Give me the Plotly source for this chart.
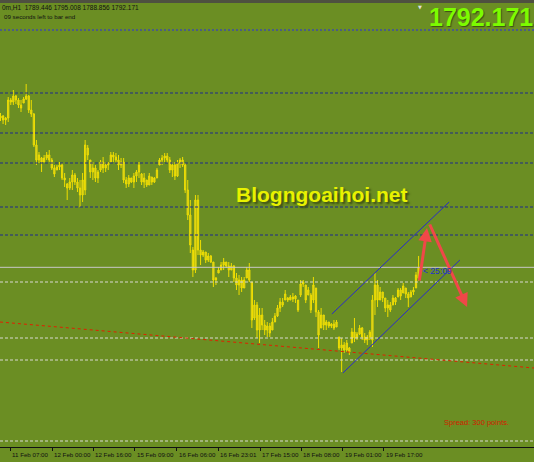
import plotly.graph_objects as go

# ---- OHLC data (XAUUSD H1) ----
bar_open = [
    1829.5, 1830.0, 1829.0, 1829.5, 1834.0, 1833.5, 1835.0, 1834.0, 1832.75, 1833.25,
    1834.25, 1835.0, 1831.5, 1830.5, 1822.75, 1819.0, 1819.5, 1818.5, 1819.5, 1820.25,
    1819.0, 1817.0, 1816.5, 1817.25, 1817.75, 1814.5, 1813.0, 1812.0, 1813.5, 1815.25,
    1813.5, 1812.0, 1810.25, 1811.5, 1822.0, 1819.0, 1816.0, 1817.0, 1814.5, 1816.5,
    1818.5, 1817.0, 1817.75, 1818.5, 1820.25, 1819.75, 1819.0, 1817.75, 1818.5, 1814.0,
    1813.0, 1814.5, 1813.5, 1815.0, 1816.0, 1815.5, 1813.5, 1814.0, 1812.75, 1814.75,
    1813.5, 1814.5, 1817.75, 1819.0, 1819.5, 1820.0, 1819.0, 1816.5, 1817.75, 1815.0,
    1818.25, 1819.0, 1817.75, 1811.5, 1805.25, 1796.5, 1791.5, 1809.0, 1796.5, 1795.25,
    1796.0, 1794.0, 1795.0, 1793.5, 1789.0, 1790.75, 1791.5, 1792.75, 1793.5, 1792.5,
    1791.5, 1792.5, 1789.5, 1787.75, 1789.0, 1787.0, 1789.5, 1791.5, 1788.5, 1779.5,
    1782.75, 1776.5, 1780.25, 1777.75, 1776.5, 1777.5, 1776.5, 1778.5, 1780.0, 1782.0,
    1783.5, 1784.0, 1784.5, 1784.0, 1784.75, 1784.25, 1784.0, 1785.25, 1788.0, 1787.75,
    1785.25, 1785.25, 1784.0, 1787.0, 1781.0, 1777.0, 1780.25, 1777.75, 1778.5, 1777.5,
    1778.0, 1777.25, 1774.75, 1772.0, 1772.75, 1771.5, 1772.0, 1773.25, 1776.0, 1774.5,
    1775.5, 1777.0, 1774.75, 1774.0, 1774.75, 1774.0, 1784.0, 1787.75, 1784.0, 1786.0,
    1784.5, 1782.0, 1782.75, 1782.75, 1784.5, 1784.75, 1786.5, 1785.75, 1787.0, 1785.5,
    1784.75, 1786.0, 1787.0, 1789.446,
]
bar_high = [
    1830.75, 1830.25, 1829.75, 1834.75, 1834.5, 1836.5, 1835.25, 1834.5, 1834.0, 1834.75,
    1838.0, 1835.25, 1834.0, 1830.75, 1824.0, 1821.0, 1819.75, 1820.25, 1821.0, 1821.5,
    1819.5, 1817.75, 1817.75, 1818.5, 1818.25, 1815.75, 1813.25, 1814.5, 1816.5, 1815.75,
    1814.5, 1814.0, 1815.75, 1824.0, 1822.75, 1819.0, 1818.5, 1817.75, 1816.5, 1819.0,
    1819.75, 1818.5, 1818.5, 1821.0, 1821.0, 1820.75, 1820.25, 1819.5, 1819.5, 1814.75,
    1815.25, 1814.5, 1815.75, 1816.5, 1818.5, 1815.75, 1815.75, 1814.0, 1815.75, 1814.75,
    1814.75, 1817.0, 1819.5, 1820.25, 1820.75, 1820.75, 1819.75, 1818.5, 1818.5, 1819.0,
    1819.5, 1819.75, 1818.25, 1814.0, 1809.0, 1797.25, 1810.25, 1810.25, 1799.0, 1796.5,
    1796.0, 1795.75, 1795.25, 1793.5, 1789.75, 1792.25, 1793.5, 1794.5, 1793.5, 1793.5,
    1793.25, 1792.75, 1790.75, 1790.25, 1789.75, 1789.75, 1792.25, 1793.25, 1788.5, 1784.0,
    1783.5, 1782.0, 1782.0, 1779.0, 1778.5, 1778.25, 1779.5, 1780.75, 1782.75, 1784.5,
    1784.5, 1786.5, 1784.75, 1785.25, 1785.75, 1785.25, 1784.0, 1789.0, 1789.0, 1787.75,
    1787.25, 1785.75, 1789.75, 1787.0, 1781.5, 1782.0, 1780.25, 1779.0, 1778.5, 1778.25,
    1779.0, 1779.0, 1774.75, 1774.5, 1773.5, 1774.0, 1772.25, 1777.0, 1779.5, 1776.0,
    1777.75, 1777.25, 1775.75, 1775.25, 1776.5, 1785.25, 1790.75, 1789.0, 1787.25, 1786.0,
    1784.5, 1784.0, 1783.5, 1785.25, 1784.75, 1787.0, 1787.0, 1788.25, 1787.0, 1786.0,
    1786.5, 1787.25, 1791.0, 1795.008,
]
bar_low = [
    1828.75, 1828.0, 1827.75, 1828.5, 1832.75, 1832.75, 1833.0, 1832.0, 1831.0, 1833.25,
    1834.0, 1830.75, 1829.75, 1822.25, 1817.75, 1818.25, 1816.0, 1818.5, 1819.0, 1818.5,
    1816.5, 1814.75, 1816.5, 1816.5, 1814.0, 1812.25, 1809.0, 1811.5, 1811.5, 1812.75,
    1811.0, 1807.25, 1808.5, 1810.25, 1819.0, 1814.5, 1814.0, 1813.5, 1813.25, 1816.0,
    1815.75, 1816.0, 1816.5, 1818.5, 1818.5, 1818.25, 1816.5, 1817.0, 1813.25, 1812.0,
    1812.25, 1813.25, 1812.0, 1813.5, 1814.5, 1812.75, 1812.0, 1812.25, 1812.75, 1812.75,
    1813.25, 1814.5, 1817.75, 1817.75, 1818.5, 1818.25, 1815.75, 1814.75, 1814.0, 1814.75,
    1817.0, 1817.25, 1810.75, 1804.0, 1795.75, 1789.75, 1790.75, 1795.25, 1792.75, 1794.75,
    1793.25, 1793.5, 1793.25, 1787.25, 1787.75, 1790.75, 1791.5, 1791.5, 1792.0, 1789.75,
    1791.5, 1788.5, 1786.5, 1785.25, 1786.0, 1787.0, 1789.5, 1788.5, 1777.0, 1779.0,
    1774.5, 1773.25, 1776.5, 1775.25, 1774.75, 1774.75, 1776.5, 1778.5, 1779.75, 1781.0,
    1782.25, 1784.0, 1783.5, 1784.0, 1783.5, 1783.25, 1781.0, 1784.75, 1787.25, 1783.25,
    1785.25, 1780.75, 1783.25, 1779.75, 1772.0, 1777.0, 1776.5, 1776.5, 1777.0, 1777.0,
    1776.5, 1777.25, 1771.5, 1766.0, 1770.75, 1771.0, 1770.25, 1773.25, 1773.5, 1774.0,
    1775.25, 1774.0, 1773.25, 1772.75, 1774.0, 1772.25, 1780.25, 1782.25, 1784.0, 1783.5,
    1781.0, 1779.75, 1781.0, 1782.75, 1782.75, 1784.75, 1784.0, 1785.75, 1784.5, 1782.25,
    1784.75, 1785.25, 1787.0, 1788.856,
]
bar_close = [
    1830.0, 1829.0, 1829.5, 1834.0, 1833.5, 1835.0, 1834.0, 1832.75, 1832.0, 1834.25,
    1835.0, 1831.5, 1830.5, 1822.75, 1819.0, 1820.25, 1818.5, 1819.5, 1820.25, 1819.0,
    1817.0, 1815.5, 1817.25, 1817.75, 1814.5, 1814.0, 1812.0, 1813.5, 1815.25, 1813.5,
    1812.0, 1810.25, 1814.0, 1822.75, 1820.25, 1816.0, 1817.0, 1814.5, 1816.0, 1818.5,
    1817.0, 1817.75, 1818.25, 1820.25, 1819.75, 1819.0, 1817.75, 1818.5, 1814.0, 1813.0,
    1814.5, 1813.5, 1815.0, 1816.0, 1817.75, 1813.5, 1814.5, 1812.75, 1815.0, 1813.5,
    1814.5, 1816.5, 1819.0, 1819.5, 1820.0, 1819.0, 1816.5, 1817.75, 1815.0, 1818.25,
    1819.0, 1817.75, 1811.5, 1805.25, 1797.75, 1791.5, 1809.0, 1796.5, 1795.25, 1796.0,
    1794.0, 1795.0, 1793.5, 1789.0, 1789.5, 1791.5, 1792.75, 1793.5, 1792.5, 1791.5,
    1792.5, 1789.5, 1787.75, 1789.0, 1787.0, 1789.0, 1791.5, 1789.0, 1779.0, 1782.75,
    1776.5, 1780.25, 1777.75, 1776.5, 1777.5, 1775.75, 1778.5, 1780.0, 1782.0, 1783.5,
    1782.75, 1785.5, 1784.0, 1784.75, 1784.25, 1785.0, 1781.5, 1788.0, 1788.5, 1784.0,
    1786.5, 1781.5, 1787.75, 1781.0, 1775.25, 1780.25, 1777.75, 1778.5, 1777.5, 1778.0,
    1777.0, 1778.5, 1772.0, 1772.75, 1771.5, 1773.25, 1771.0, 1776.0, 1774.5, 1775.5,
    1777.0, 1774.75, 1774.0, 1774.75, 1776.0, 1784.0, 1787.75, 1784.0, 1786.0, 1784.5,
    1782.0, 1782.75, 1781.5, 1784.5, 1783.5, 1786.5, 1785.0, 1787.5, 1785.5, 1784.5,
    1786.0, 1786.5, 1790.25, 1792.171,
]
bar_index = list(range(len(bar_close)))

# time-axis labels (bar positions where MT4 prints them)
tick_pos = [3.7, 20.1, 36.1, 52.4, 68.8, 84.8, 101.2, 117.2, 133.5, 149.5]
tick_labels = ["11 Feb 07:00", "12 Feb 00:00", "12 Feb 16:00", "15 Feb 09:00", "16 Feb 06:00",
               "16 Feb 23:01", "17 Feb 15:00", "18 Feb 08:00", "19 Feb 01:00", "19 Feb 17:00"]

# horizontal levels
blue_dotted_levels = [1851.5]
navy_dashed_levels = [1835.75, 1825.75, 1818.25, 1807.25, 1800.25]
bid_level = 1792.171
white_dashed_levels = [1788.5, 1774.5, 1769.0, 1748.75]

# trend lines: (x0, y0, x1, y1) in bar index / price
red_trend = (-0.2, 1778.5, 208.0, 1767.0)
channel_upper = (129.2, 1780.5, 174.9, 1808.5)
channel_lower = (133.5, 1765.75, 179.1, 1794.0)
# arrows: (from_x, from_y, to_x, to_y)
arrow_up = (163.2, 1788.5, 166.3, 1802.0)
arrow_down = (167.1, 1803.25, 181.9, 1782.25)

BG = "#6B8E23"

fig = go.Figure()
fig.add_trace(go.Candlestick(
    x=bar_index, open=bar_open, high=bar_high, low=bar_low, close=bar_close,
    increasing=dict(line=dict(color="#EEDD00", width=1), fillcolor="#C8C43A"),
    decreasing=dict(line=dict(color="#EEDD00", width=1), fillcolor="#C8C43A"),
    whiskerwidth=0, showlegend=False, hoverinfo="skip",
))

shapes = []
for lv in blue_dotted_levels:
    shapes.append(dict(type="line", xref="paper", x0=0, x1=1, yref="y", y0=lv, y1=lv,
                       line=dict(color="#2B2BE8", width=1, dash="2px,2px")))
for lv in navy_dashed_levels:
    shapes.append(dict(type="line", xref="paper", x0=0, x1=1, yref="y", y0=lv, y1=lv,
                       line=dict(color="#1E2A8C", width=1, dash="3px,2px")))
shapes.append(dict(type="line", xref="paper", x0=0, x1=1, yref="y", y0=bid_level, y1=bid_level,
                   line=dict(color="#C8C8C8", width=1)))
for lv in white_dashed_levels:
    shapes.append(dict(type="line", xref="paper", x0=0, x1=1, yref="y", y0=lv, y1=lv,
                       line=dict(color="#D8D8D0", width=1, dash="3px,2px")))
shapes.append(dict(type="line", xref="x", yref="y", x0=red_trend[0], y0=red_trend[1],
                   x1=red_trend[2], y1=red_trend[3],
                   line=dict(color="#E02000", width=1, dash="3px,3px")))
for ch in (channel_upper, channel_lower):
    shapes.append(dict(type="line", xref="x", yref="y", x0=ch[0], y0=ch[1], x1=ch[2], y1=ch[3],
                       line=dict(color="#2A2ACC", width=1)))
# top dark strip
shapes.append(dict(type="rect", xref="paper", yref="paper", x0=0, x1=1, y0=1, y1=1.01,
                   fillcolor="#4E5040", line=dict(width=0)))

annotations = []
for a in (arrow_up, arrow_down):
    annotations.append(dict(x=a[2], y=a[3], ax=a[0], ay=a[1], xref="x", yref="y",
                            axref="x", ayref="y", showarrow=True, arrowhead=2,
                            arrowsize=0.9, arrowwidth=3, arrowcolor="#F04848", text=""))
for tp, tl in zip(tick_pos, tick_labels):
    annotations.append(dict(x=tp, y=0, xref="x", yref="paper", yshift=-7, text=tl,
                            showarrow=False, xanchor="left", yanchor="middle", xshift=0,
                            font=dict(family="Liberation Sans, Arial", size=6.2, color="#111111")))

annotations += [
    dict(x=0, y=1, xref="paper", yref="paper", xanchor="left", yanchor="middle", yshift=-4,
         text="0m,H1  1789.446 1795.008 1788.856 1792.171", showarrow=False,
         font=dict(family="Liberation Sans, Arial", size=6.5, color="#111111")),
    dict(x=0.004, y=1, xref="paper", yref="paper", xanchor="left", yanchor="middle", yshift=-13,
         text="09 seconds left to bar end", showarrow=False,
         font=dict(family="Liberation Sans, Arial", size=6.2, color="#111111")),
    dict(x=1, y=1, xref="paper", yref="paper", xanchor="right", yanchor="middle", yshift=-14,
         xshift=1, text="<b>1792.171</b>", showarrow=False,
         font=dict(family="Liberation Sans, Arial", size=25, color="#7CFC00",
                   shadow="1px 1px 1px #3E5012")),
    dict(x=321 / 534, y=(447 - 194) / 444, xref="paper", yref="paper", xanchor="center",
         yanchor="middle", text="<b>Blogngoaihoi.net</b>", showarrow=False,
         font=dict(family="Liberation Sans, Arial", size=21, color="#E8F200",
                   shadow="2px 2px 2px #3E5012")),
    dict(x=163.8, y=bid_level, xref="x", yref="y", xanchor="left", yanchor="middle",
         yshift=-4, text="&lt; 25:09", showarrow=False,
         font=dict(family="Liberation Sans, Arial", size=8.5, color="#1E2ED0")),
    dict(x=442 / 534, y=(447 - 422) / 444, xref="paper", yref="paper", xanchor="left",
         yanchor="middle", text="Spread: 300 points.", showarrow=False,
         font=dict(family="Liberation Sans, Arial", size=7.5, color="#D02000")),
    dict(x=420 / 534, y=1, xref="paper", yref="paper", xanchor="center", yanchor="top",
         yshift=1, text="▼", showarrow=False,
         font=dict(family="DejaVu Sans", size=5, color="#E0E0E0")),
]

fig.update_layout(
    width=534, height=462,
    margin=dict(l=0, r=0, t=3, b=15),
    paper_bgcolor=BG, plot_bgcolor=BG,
    showlegend=False,
    shapes=shapes, annotations=annotations,
    xaxis=dict(range=[-0.2, 208.0], showgrid=False, zeroline=False, rangeslider=dict(visible=False),
               tickmode="array", tickvals=tick_pos, showticklabels=False,
               ticks="outside", ticklen=3, tickcolor="#111111",
               showline=True, linecolor="#111111", linewidth=1),
    yaxis=dict(range=[1747.25, 1858.25], showgrid=False, zeroline=False,
               showticklabels=False, showline=False),
)

fig.write_html(
    "out.html",
    config={"displayModeBar": False},
    post_script="document.body.style.margin='0';document.body.style.overflow='hidden';"
                "document.body.style.background='" + BG + "';",
)
